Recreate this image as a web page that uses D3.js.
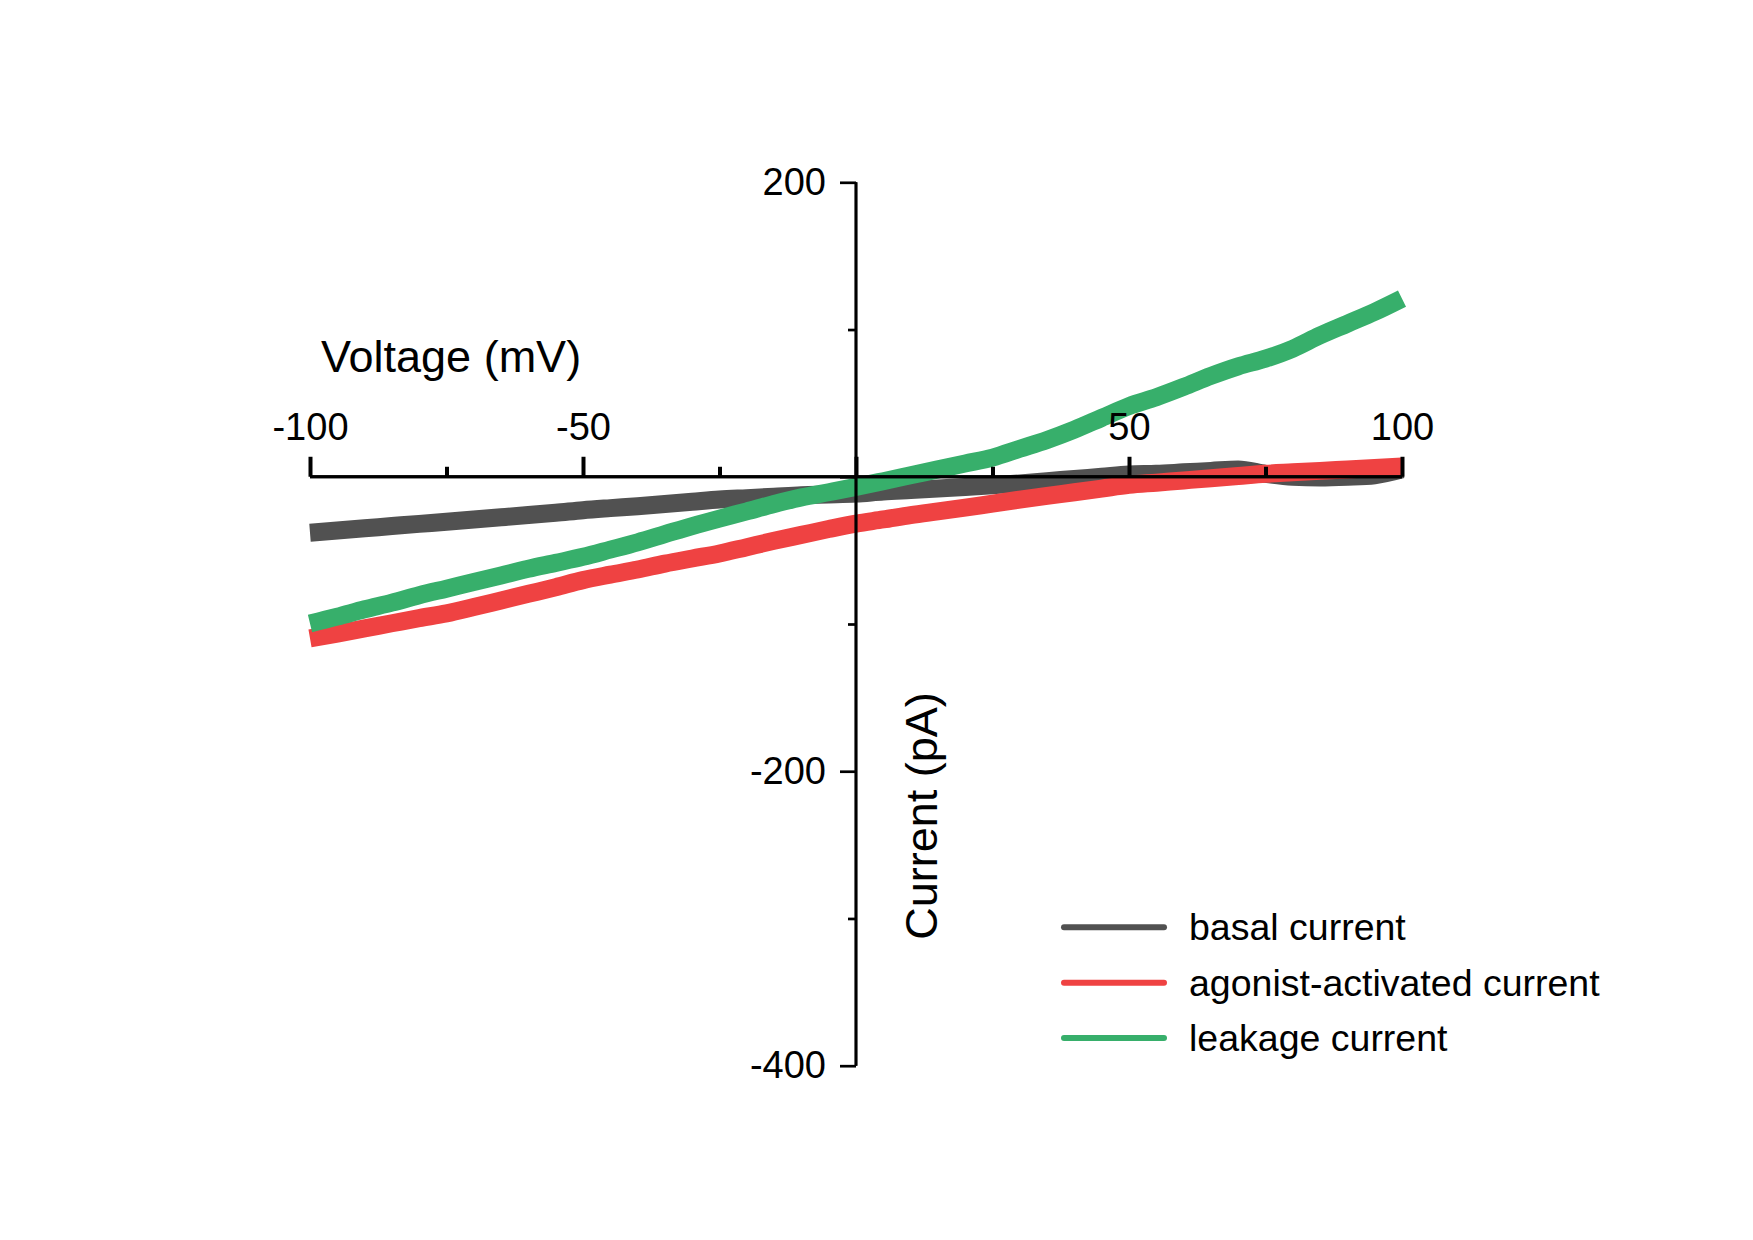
<!DOCTYPE html>
<html>
<head>
<meta charset="utf-8">
<script src="https://cdn.jsdelivr.net/npm/d3@7"></script>
<style>
  html, body { margin: 0; padding: 0; background: #ffffff; }
  svg { display: block; }
  text { font-family: "Liberation Sans", Arial, sans-serif; fill: #000; }
</style>
</head>
<body>
<svg id="chart" width="1753" height="1240"></svg>
<script>
// ---- data ----
const voltages = [-100,-95,-90,-85,-80,-75,-70,-65,-60,-55,-50,-45,-40,-35,-30,-25,-20,-15,-10,-5,
                  0,5,10,15,20,25,30,35,40,45,50,55,60,65,70,75,80,85,90,95,100];
const basalCurrent = [-38,-36.5,-35,-33.5,-32,-30.6,-29,-27.5,-26,-24.5,-22.7,-21.3,-20,-18.5,-17,-15.5,-14.5,-13.5,-12.5,-12,
                      -11.4,-10,-9,-8,-7,-5.8,-4.5,-3,-1.5,0,1.5,2,3,4,5,2,0,-0.5,0,1,5];
const agonistCurrent = [-109.8,-106.5,-103,-99.5,-96,-92.8,-88.5,-84,-79.5,-75,-70.2,-66.5,-63,-59,-55.5,-52.1,-47.8,-43.5,-39.5,-35.5,
                        -31.8,-29,-26,-23.5,-21,-18.2,-15.5,-13,-10.5,-8,-5.5,-4,-2.5,-1,0.5,2,3,4,5,6,7];
const leakageCurrent = [-99.6,-95,-90,-85.5,-80.5,-76,-71.5,-67,-62.5,-58.5,-54.4,-49.5,-44.5,-39,-33.5,-28.4,-23.5,-18.5,-14,-10.5,
                        -6.9,-3,1,5,9,13,19,25,32,40,48,54,61,68.5,75,80.2,87,96,104,112,121];
const seriesNames = ["basal current", "agonist-activated current", "leakage current"];
const seriesColors = ["#515151", "#ef4242", "#37af6b"];
const xMajorTicks = [-100, -50, 0, 50, 100];
const xMinorTicks = [-75, -25, 25, 75];
const xTickLabels = ["-100", "-50", "", "50", "100"];
const yMajorTicks = [200, 0, -200, -400];
const yMinorTicks = [100, -100, -300];
const yTickLabels = ["200", "", "-200", "-400"];
const xTitle = "Voltage (mV)";
const yTitle = "Current (pA)";

// ---- layout ----
const svg = d3.select("#chart");
const x = d3.scaleLinear().domain([-100, 100]).range([310, 1402]);
const y = d3.scaleLinear().domain([-400, 200]).range([1065.7, 182.3]);

const series = [basalCurrent, agonistCurrent, leakageCurrent];

// traces
const line = d3.line()
  .x((d, i) => x(voltages[i]))
  .y(d => y(d))
  .curve(d3.curveMonotoneX);

const traces = svg.append("g");
series.forEach((vals, k) => {
  traces.append("path")
    .datum(vals)
    .attr("d", line)
    .attr("fill", "none")
    .attr("stroke", seriesColors[k])
    .attr("stroke-width", 18)
    .attr("stroke-linejoin", "round")
    .attr("stroke-linecap", "butt");
});

// x axis (ticks point up, labels above) at y = 0
const xAxisG = svg.append("g").attr("transform", `translate(0,${y(0)})`);
xAxisG.call(d3.axisTop(x).tickValues(xMajorTicks).tickSize(20)
  .tickFormat((d, i) => xTickLabels[i]).tickPadding(17));
xAxisG.append("g").call(d3.axisTop(x).tickValues(xMinorTicks).tickSize(10).tickFormat(""));
xAxisG.selectAll(".domain").attr("stroke", "#000").attr("stroke-width", 3)
  .attr("d", `M${x(-100)},0H${x(100)}`);
xAxisG.selectAll(".tick line").attr("stroke", "#000").attr("stroke-width", 4);
xAxisG.selectAll(".tick text").attr("font-size", 38).attr("fill", "#000")
  .attr("font-family", "Liberation Sans, Arial, sans-serif");

// y axis (ticks point left) at x = 0
const yAxisG = svg.append("g").attr("transform", `translate(${x(0)},0)`);
yAxisG.call(d3.axisLeft(y).tickValues(yMajorTicks).tickSize(16)
  .tickFormat((d, i) => yTickLabels[i]).tickPadding(14));
yAxisG.append("g").call(d3.axisLeft(y).tickValues(yMinorTicks).tickSize(8).tickFormat(""));
yAxisG.selectAll(".domain").attr("stroke", "#000").attr("stroke-width", 2.7)
  .attr("d", `M0,${y(200)}V${y(-400)}`);
yAxisG.selectAll(".tick line").attr("stroke", "#000").attr("stroke-width", 2.7);
yAxisG.selectAll(".tick text").attr("font-size", 38).attr("fill", "#000")
  .attr("font-family", "Liberation Sans, Arial, sans-serif");

// axis titles
svg.append("text")
  .attr("x", 321).attr("y", 371.5)
  .attr("font-size", 45)
  .text(xTitle);

svg.append("text")
  .attr("transform", `translate(936.5,816) rotate(-90)`)
  .attr("text-anchor", "middle")
  .attr("font-size", 45)
  .text(yTitle);

// legend
const legendY = [927.3, 982.7, 1038];
const legend = svg.append("g");
seriesNames.forEach((name, k) => {
  legend.append("line")
    .attr("x1", 1064).attr("x2", 1164)
    .attr("y1", legendY[k]).attr("y2", legendY[k])
    .attr("stroke", seriesColors[k]).attr("stroke-width", 6)
    .attr("stroke-linecap", "round");
  legend.append("text")
    .attr("x", 1189).attr("y", legendY[k] + 13)
    .attr("font-size", 37.5)
    .text(name);
});
</script>
</body>
</html>
